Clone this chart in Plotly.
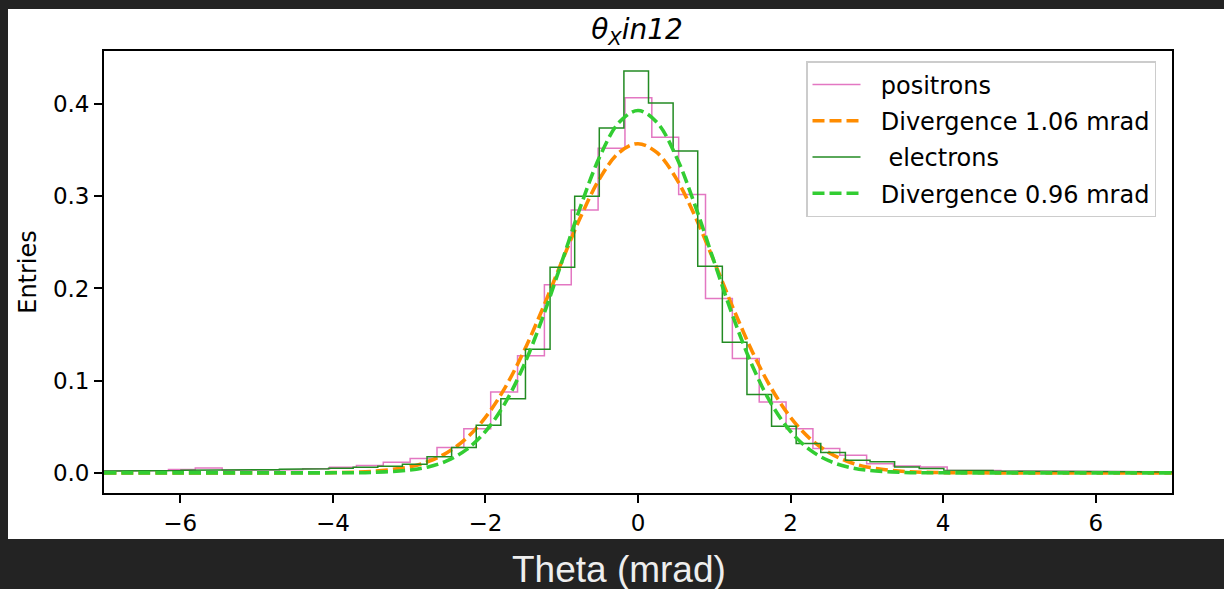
import numpy as np
import plotly.graph_objects as go

# ---------------- data ----------------
pos_first_edge = -7.211
pos_bin_width = 0.352
pos_counts = [0.002, 0.002, 0.0025, 0.0037, 0.0054, 0.003, 0.003, 0.0035, 0.0045, 0.006,
              0.008, 0.0116, 0.0156, 0.0275, 0.048, 0.0878, 0.127, 0.204, 0.285, 0.352,
              0.4067, 0.364, 0.302, 0.189, 0.124, 0.077, 0.048, 0.0265, 0.0192, 0.010,
              0.0076, 0.0065, 0.003, 0.0025, 0.002, 0.002, 0.0018, 0.0015, 0.0015, 0.0012,
              0.001]

ele_first_edge = -7.282
ele_bin_width = 0.3226
ele_counts = [0.002, 0.002, 0.0025, 0.0025, 0.003, 0.003, 0.003, 0.0035, 0.004, 0.0045,
              0.005, 0.006, 0.0073, 0.0094, 0.0174, 0.0275, 0.0517, 0.0803, 0.134, 0.223,
              0.300, 0.374, 0.4357, 0.401, 0.349, 0.224, 0.1418, 0.085, 0.0507, 0.0319,
              0.0221, 0.0138, 0.012, 0.0065, 0.0048, 0.003, 0.0025, 0.002, 0.002, 0.0018,
              0.0015, 0.0015, 0.0012, 0.001, 0.001]

fit_x = [-7, -6, -5, -4.5, -4, -3.5, -3, -2.75, -2.5, -2.25, -2, -1.75, -1.5, -1.25, -1,
         -0.75, -0.5, -0.25, 0, 0.25, 0.5, 0.75, 1, 1.25, 1.5, 1.75, 2, 2.25, 2.5, 2.75,
         3, 3.5, 4, 4.5, 5, 6, 7]
pos_fit = [0, 0, 0, 0.0001, 0.0003, 0.0015, 0.0065, 0.0123, 0.0221, 0.0375, 0.0602, 0.0914,
           0.1312, 0.1781, 0.2288, 0.2780, 0.3194, 0.3472, 0.357, 0.3472, 0.3194, 0.2780,
           0.2288, 0.1781, 0.1312, 0.0914, 0.0602, 0.0375, 0.0221, 0.0123, 0.0065, 0.0015,
           0.0003, 0.0001, 0, 0, 0]
ele_fit = [0, 0, 0, 0, 0.0001, 0.0005, 0.003, 0.0065, 0.0132, 0.0252, 0.0449, 0.0746,
           0.1159, 0.1684, 0.2285, 0.2896, 0.3432, 0.3799, 0.393, 0.3799, 0.3432, 0.2896,
           0.2285, 0.1684, 0.1159, 0.0746, 0.0449, 0.0252, 0.0132, 0.0065, 0.003, 0.0005,
           0.0001, 0, 0, 0, 0]

labels = ["positrons", "Divergence 1.06 mrad", " electrons", "Divergence 0.96 mrad"]
x_ticks = [-6, -4, -2, 0, 2, 4, 6]
y_ticks = [0.0, 0.1, 0.2, 0.3, 0.4]


def step_xy(first_edge, width, counts):
    counts = np.asarray(counts, dtype=float)
    edges = first_edge + width * np.arange(len(counts) + 1)
    xs = np.concatenate([[edges[0]], np.repeat(edges, 2)[1:-1], [edges[-1]]])
    ys = np.concatenate([[0.0], np.repeat(counts, 2), [0.0]])
    return xs, ys


px_, py_ = step_xy(pos_first_edge, pos_bin_width, pos_counts)
ex_, ey_ = step_xy(ele_first_edge, ele_bin_width, ele_counts)

gap = "  "  # visual gap between legend sample and its label

fig = go.Figure()
fig.add_trace(go.Scatter(x=px_, y=py_, mode="lines", name=gap + labels[0], legendgroup="a",
                         line=dict(color="#e377c2", width=1.5)))
fig.add_trace(go.Scatter(x=fit_x, y=pos_fit, mode="lines", name=gap + labels[1], legendgroup="b",
                         line=dict(color="#ff8c00", width=3.6, dash="12px,5px", shape="spline")))
fig.add_trace(go.Scatter(x=ex_, y=ey_, mode="lines", name=gap + labels[2], legendgroup="c",
                         line=dict(color="#238b23", width=1.5)))
fig.add_trace(go.Scatter(x=fit_x, y=ele_fit, mode="lines", name=gap + labels[3], legendgroup="d",
                         line=dict(color="#32cd32", width=3.6, dash="12px,5px", shape="spline")))

L, R, T, B = 104, 52, 51, 96
W, H = 1224, 589
pw, ph = W - L - R, H - T - B

fig.add_shape(type="rect", xref="paper", yref="paper",
              x0=(8 - L) / pw, x1=(W + 5 - L) / pw,
              y0=(H - B - 539) / ph, y1=(H - B - 9) / ph,
              fillcolor="white", line=dict(width=0), layer="below")

fig.add_annotation(text="Theta (mrad)", xref="paper", yref="paper",
                   x=(619 - L) / pw, y=(H - B - 569) / ph, xanchor="center", yanchor="middle",
                   showarrow=False,
                   font=dict(family="Liberation Sans, Arial", size=37, color="#eeeeee"))

axis_common = dict(showline=True, linecolor="black", linewidth=1.8, mirror=True,
                   ticks="outside", ticklen=8, tickwidth=1.8, tickcolor="black",
                   showgrid=False, zeroline=False,
                   tickfont=dict(family="DejaVu Sans", size=23, color="black"))

fig.update_layout(
    width=W, height=H,
    margin=dict(l=L, r=R, t=T, b=B, pad=0),
    paper_bgcolor="#232323",
    plot_bgcolor="white",
    title=dict(text="<i>θ<sub>X</sub>in12</i>", x=(637 - L) / pw, xref="paper",
               xanchor="center", y=1 - 29 / H, yanchor="middle",
               font=dict(family="DejaVu Sans", size=28, color="black")),
    xaxis=dict(range=[-7, 7], tickvals=x_ticks, **axis_common),
    yaxis=dict(range=[-0.0218, 0.4575], tickvals=y_ticks, tickformat=".1f",
               title=dict(text="Entries", standoff=10,
                          font=dict(family="DejaVu Sans", size=24, color="black")),
               **axis_common),
    legend=dict(x=(806 - L) / pw, y=(H - B - 61) / ph, xanchor="left", yanchor="top",
                bgcolor="white", bordercolor="#cccccc", borderwidth=1.5,
                font=dict(family="DejaVu Sans", size=24, color="black"),
                traceorder="grouped", tracegroupgap=2, itemwidth=48),
    showlegend=True,
)

fig.write_html("out.html")
